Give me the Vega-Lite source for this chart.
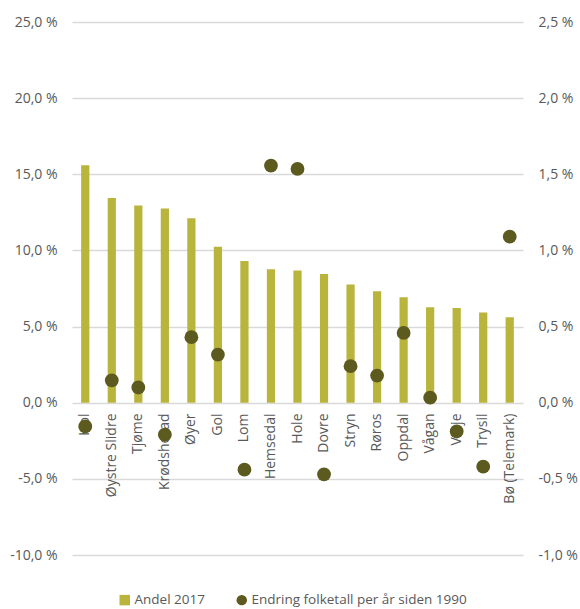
{
  "$schema": "https://vega.github.io/schema/vega-lite/v6.json",
  "autosize": "none",
  "width": 451,
  "height": 533,
  "padding": {"left": 72, "top": 22, "right": 57, "bottom": 54},
  "background": "white",
  "config": {
    "view": {"stroke": null},
    "font": "Open Sans",
    "axis": {"labelFont": "Open Sans", "labelColor": "#595959", "labelFontSize": 14, "titleFont": "Open Sans"},
    "legend": {"labelFont": "Open Sans", "labelColor": "#595959", "labelFontSize": 13.5}
  },
  "data": {
    "values": [
      {"kommune": "Hol", "andel": 15.6, "endring": -0.156},
      {"kommune": "Øystre Slidre", "andel": 13.45, "endring": 0.147},
      {"kommune": "Tjøme", "andel": 12.95, "endring": 0.10},
      {"kommune": "Krødsherad", "andel": 12.76, "endring": -0.21},
      {"kommune": "Øyer", "andel": 12.12, "endring": 0.43},
      {"kommune": "Gol", "andel": 10.24, "endring": 0.316},
      {"kommune": "Lom", "andel": 9.3, "endring": -0.44},
      {"kommune": "Hemsedal", "andel": 8.77, "endring": 1.557},
      {"kommune": "Hole", "andel": 8.68, "endring": 1.535},
      {"kommune": "Dovre", "andel": 8.46, "endring": -0.47},
      {"kommune": "Stryn", "andel": 7.76, "endring": 0.24},
      {"kommune": "Røros", "andel": 7.32, "endring": 0.178},
      {"kommune": "Oppdal", "andel": 6.93, "endring": 0.458},
      {"kommune": "Vågan", "andel": 6.27, "endring": 0.033},
      {"kommune": "Vinje", "andel": 6.22, "endring": -0.189},
      {"kommune": "Trysil", "andel": 5.92, "endring": -0.42},
      {"kommune": "Bø (Telemark)", "andel": 5.61, "endring": 1.09}
    ]
  },
  "encoding": {
    "x": {
      "field": "kommune",
      "type": "nominal",
      "sort": null,
      "scale": {"paddingInner": 0.69, "paddingOuter": 0.345},
      "axis": {
        "title": null,
        "domain": false,
        "ticks": false,
        "labelAngle": -90,
        "labelPadding": 10,
        "offset": -152,
        "labelFontSize": 14
      }
    }
  },
  "layer": [
    {
      "mark": {"type": "bar", "color": "#b8b43c"},
      "encoding": {
        "y": {
          "field": "andel",
          "type": "quantitative",
          "scale": {"domain": [-10, 25], "nice": false},
          "axis": {
            "title": null,
            "domain": false,
            "ticks": false,
            "labelPadding": 15,
            "values": [-10, -5, 0, 5, 10, 15, 20, 25],
            "gridColor": "#d9d9d9",
            "gridWidth": 1.5,
            "labelExpr": "(datum.value < 0 ? '-' : '') + replace(format(abs(datum.value), '.1f'), '.', ',') + ' %'"
          }
        },
        "color": {
          "datum": "Andel 2017",
          "type": "nominal",
          "scale": {"domain": ["Andel 2017", "Endring folketall per år siden 1990"], "range": ["#b8b43c", "#5c5a1e"]},
          "legend": {
            "title": null,
            "orient": "none",
            "direction": "horizontal",
            "legendX": 46,
            "legendY": 571,
            "columnPadding": 30,
            "symbolSize": 110,
            "symbolStrokeWidth": 0,
            "labelOffset": 3,
            "labelLimit": 0,
            "encode": {
              "symbols": {
                "update": {
                  "shape": {"signal": "datum.value == 'Andel 2017' ? 'square' : 'circle'"}
                }
              }
            }
          }
        }
      }
    },
    {
      "mark": {"type": "point", "filled": true, "opacity": 1, "size": 190},
      "encoding": {
        "y": {
          "field": "endring",
          "type": "quantitative",
          "scale": {"domain": [-1, 2.5], "nice": false},
          "axis": {
            "title": null,
            "orient": "right",
            "domain": false,
            "ticks": false,
            "grid": false,
            "labelPadding": 15,
            "values": [-1, -0.5, 0, 0.5, 1, 1.5, 2, 2.5],
            "labelExpr": "(datum.value < 0 ? '-' : '') + replace(format(abs(datum.value), '.1f'), '.', ',') + ' %'"
          }
        },
        "color": {"datum": "Endring folketall per år siden 1990", "type": "nominal"}
      }
    }
  ],
  "resolve": {"scale": {"y": "independent"}}
}
